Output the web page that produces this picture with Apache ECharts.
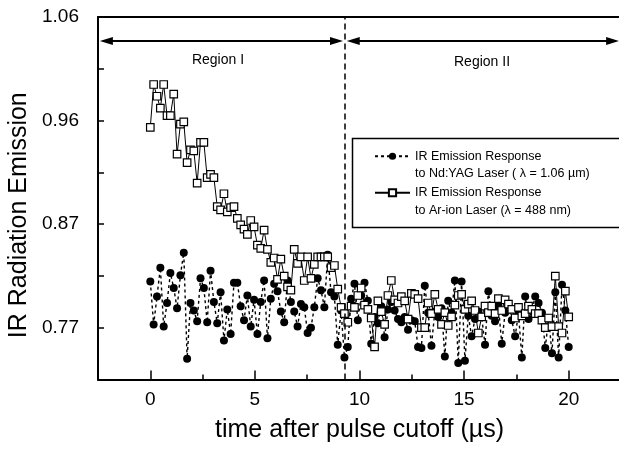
<!DOCTYPE html>
<html>
<head>
<meta charset="utf-8">
<script src="https://cdn.jsdelivr.net/npm/echarts@6/dist/echarts.min.js"></script>
<style>html,body{margin:0;padding:0;background:#fff}#c{width:619px;height:452px}</style>
</head>
<body>
<div id="c"></div>
<script>
// ---- data ----
const times = [0,0.16,0.32,0.48,0.64,0.8,0.96,1.12,1.28,1.44,1.6,1.76,1.92,2.08,2.24,2.4,2.56,2.72,2.88,3.04,3.2,3.36,3.52,3.68,3.84,4,4.16,4.32,4.48,4.64,4.8,4.96,5.12,5.28,5.44,5.6,5.76,5.92,6.08,6.24,6.4,6.56,6.72,6.88,7.04,7.2,7.36,7.52,7.68,7.84,8,8.16,8.32,8.48,8.64,8.8,8.96,9.12,9.28,9.44,9.6,9.76,9.92,10.08,10.24,10.4,10.56,10.72,10.88,11.04,11.2,11.36,11.52,11.68,11.84,12,12.16,12.32,12.48,12.64,12.8,12.96,13.12,13.28,13.44,13.6,13.76,13.92,14.08,14.24,14.4,14.56,14.72,14.88,15.04,15.2,15.36,15.52,15.68,15.84,16,16.16,16.32,16.48,16.64,16.8,16.96,17.12,17.28,17.44,17.6,17.76,17.92,18.08,18.24,18.4,18.56,18.72,18.88,19.04,19.2,19.36,19.52,19.68,19.84,20];

const ndYag = [
0.813,0.773,0.799,0.826,0.771,0.793,0.821,0.807,0.788,0.819,
0.840,0.741,0.793,0.786,0.776,0.816,0.807,0.775,0.823,0.794,
0.774,0.803,0.758,0.787,0.764,0.812,0.812,0.790,0.777,0.800,
0.771,0.796,0.764,0.794,0.814,0.760,0.797,0.811,0.804,0.785,
0.775,0.814,0.794,0.785,0.771,0.792,0.789,0.765,0.770,0.789,
0.816,0.805,0.789,0.838,0.803,0.799,0.754,0.786,0.742,0.752,
0.797,0.811,0.777,0.800,0.812,0.795,0.755,0.780,0.774,0.790,
0.761,0.787,0.794,0.786,0.778,0.775,0.780,0.768,0.777,0.776,
0.752,0.751,0.809,0.784,0.753,0.785,0.780,0.788,0.743,0.795,
0.784,0.814,0.737,0.813,0.739,0.781,0.762,0.778,0.785,0.780,
0.754,0.804,0.781,0.776,0.790,0.755,0.784,0.791,0.777,0.762,
0.783,0.742,0.799,0.778,0.786,0.799,0.793,0.784,0.751,0.779,
0.746,0.803,0.742,0.810,0.786,0.752];

const arIon = [
0.957,0.997,0.986,0.975,0.997,0.968,0.968,0.988,0.932,0.960,
0.962,0.924,0.936,0.935,0.905,0.943,0.943,0.910,0.913,0.910,
0.883,0.880,0.895,0.878,0.882,0.883,0.872,0.866,0.862,0.857,
0.870,0.864,0.847,0.844,0.861,0.843,0.831,0.835,0.815,0.834,
0.818,0.808,0.805,0.843,0.830,0.836,0.814,0.836,0.816,0.829,
0.836,0.836,0.836,0.836,0.826,0.828,0.806,0.789,0.783,0.775,
0.790,0.789,0.800,0.807,0.791,0.787,0.779,0.752,0.795,0.785,
0.773,0.800,0.814,0.796,0.793,0.799,0.795,0.778,0.802,0.801,
0.797,0.770,0.770,0.793,0.783,0.801,0.787,0.773,0.784,0.772,
0.780,0.791,0.800,0.801,0.787,0.792,0.795,0.786,0.765,0.780,
0.790,0.784,0.790,0.783,0.797,0.786,0.796,0.792,0.787,0.779,
0.789,0.781,0.783,0.790,0.787,0.783,0.783,0.777,0.770,0.779,
0.771,0.818,0.771,0.765,0.804,0.780];

const xMajorTicks = [0, 5, 10, 15, 20];
const xMinorTicks = [2.5, 7.5, 12.5, 17.5];
const yLabelTicks = [0.77, 0.8666667, 0.9633333, 1.06];
const yAllTicks = [0.77, 0.8183333, 0.8666667, 0.915, 0.9633333, 1.0116667, 1.06];
const regionBoundary = 9.3;
const seriesNames = ['IR Emission Response\nto Nd:YAG Laser ( \u03bb = 1.06 \u00b5m)',
                     'IR Emission Response\nto Ar-ion Laser (\u03bb = 488 nm)'];
const regionLabels = ['Region I', 'Region II'];

// ---- chart ----
const FONT = "'Liberation Sans', Arial, Helvetica, sans-serif";
const X_MIN = -2.5, X_MAX = 22.5, Y_MIN = 0.7216667, Y_MAX = 1.06;
const ARROW_Y = 1.0376;

const chart = echarts.init(document.getElementById('c'), null, {renderer: 'canvas'});
const axisLine = {show: true, onZero: false, lineStyle: {color: '#000', width: 2}};
const legendText = {fontFamily: FONT, fontSize: 12.5, lineHeight: 17.5, color: '#000'};

chart.setOption({
  animation: false,
  backgroundColor: '#fff',
  grid: {left: 98, top: 17, right: -2, bottom: 72.6, containLabel: false, outerBoundsMode: 'none'},
  xAxis: [{
    type: 'value', min: X_MIN, max: X_MAX, position: 'bottom',
    name: 'time after pulse cutoff (\u00b5s)', nameLocation: 'middle', nameGap: 38,
    nameTextStyle: {fontFamily: FONT, fontSize: 25, color: '#000'},
    axisLine: axisLine,
    axisTick: {show: true, inside: true, length: 9, customValues: xMajorTicks, lineStyle: {color: '#000', width: 1.5}},
    axisLabel: {show: true, customValues: xMajorTicks, margin: 11, fontFamily: FONT, fontSize: 19, color: '#000'},
    splitLine: {show: false}
  }, {
    type: 'value', min: X_MIN, max: X_MAX, position: 'bottom', gridIndex: 0,
    axisLine: {show: false, onZero: false},
    axisTick: {show: true, inside: true, length: 5, customValues: xMinorTicks, lineStyle: {color: '#000', width: 1.5}},
    axisLabel: {show: false}, splitLine: {show: false}
  }, {
    type: 'value', min: X_MIN, max: X_MAX, position: 'top', gridIndex: 0,
    axisLine: axisLine, axisTick: {show: false}, axisLabel: {show: false}, splitLine: {show: false}
  }],
  yAxis: [{
    type: 'value', min: Y_MIN, max: Y_MAX, position: 'left',
    name: 'IR Radiation Emission', nameLocation: 'middle', nameGap: 65,
    nameTextStyle: {fontFamily: FONT, fontSize: 25, color: '#000', padding: [0, 34, 0, 0]},
    axisLine: axisLine,
    axisTick: {show: true, inside: true, length: 6, customValues: yAllTicks, lineStyle: {color: '#000', width: 1.5}},
    axisLabel: {show: true, customValues: yLabelTicks, margin: 19, fontFamily: FONT, fontSize: 19, color: '#000',
      formatter: v => v.toFixed(2)},
    splitLine: {show: false}
  }],
  legend: [{
    data: [seriesNames[0]], left: 374, top: 130, orient: 'vertical',
    itemWidth: 35, itemHeight: 9, padding: 0,
    formatter: n => '\n' + n, textStyle: legendText
  }, {
    data: [seriesNames[1]], left: 374, top: 166.5, orient: 'vertical',
    itemWidth: 35, itemHeight: 9, padding: 0,
    formatter: n => '\n' + n, textStyle: legendText
  }],
  graphic: [
    {type: 'rect', shape: {x: 352.5, y: 138.5, width: 280, height: 89}, style: {fill: 'none', stroke: '#000', lineWidth: 1.5}, z: 1},
    {type: 'text', x: 218, y: 60, style: {text: regionLabels[0], fontFamily: FONT, fontSize: 14, fill: '#000', align: 'center', verticalAlign: 'middle'}},
    {type: 'text', x: 482, y: 62, style: {text: regionLabels[1], fontFamily: FONT, fontSize: 14, fill: '#000', align: 'center', verticalAlign: 'middle'}}
  ],
  series: [{
    name: seriesNames[0], type: 'line', xAxisIndex: 0,
    data: times.map((t, i) => [t, ndYag[i]]),
    symbol: 'circle', symbolSize: 8, showAllSymbol: true,
    itemStyle: {color: '#000'},
    lineStyle: {color: '#000', width: 1.4, type: [3, 3]},
    z: 2,
    markLine: {
      silent: true, symbol: 'none', animation: false,
      lineStyle: {color: '#000', width: 1.5, type: [6, 4]},
      label: {show: false},
      data: [{xAxis: regionBoundary}]
    }
  }, {
    name: seriesNames[1], type: 'line', xAxisIndex: 0,
    data: times.map((t, i) => [t, arIon[i]]),
    symbol: 'rect', symbolSize: 7.5, showAllSymbol: true,
    itemStyle: {color: '#fff', borderColor: '#000', borderWidth: 1.2},
    lineStyle: {color: '#000', width: 1},
    z: 3,
    markLine: {
      silent: true, animation: false, symbol: ['triangle', 'triangle'], symbolSize: [8, 13],
      lineStyle: {color: '#000', width: 2, type: 'solid'},
      label: {show: false},
      data: [
        [{coord: [-2.1, ARROW_Y]}, {coord: [8.9, ARROW_Y]}],
        [{coord: [9.7, ARROW_Y]}, {coord: [22.1, ARROW_Y]}]
      ]
    }
  }]
});
</script>
</body>
</html>
